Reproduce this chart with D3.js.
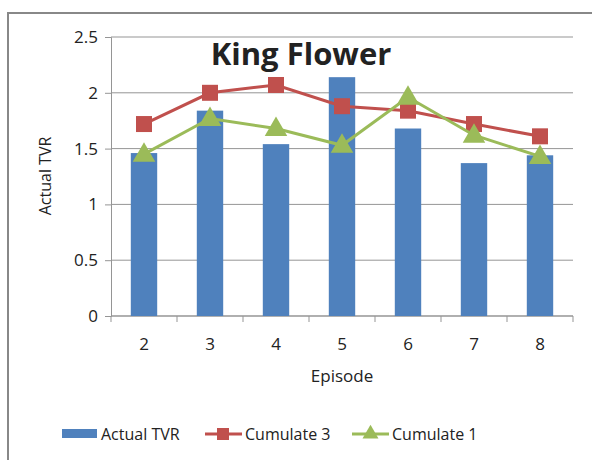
<!DOCTYPE html>
<html>
<head>
<meta charset="utf-8">
<script src="https://cdn.jsdelivr.net/npm/d3@7"></script>
<style>
  body { margin: 0; background: #fff; }
  text { font-family: "Open Sans", "Liberation Sans", sans-serif; fill: #222; }
</style>
</head>
<body>
<div id="chart"></div>
<script>
// chart data
let episodes = ["2", "3", "4", "5", "6", "7", "8"]
let actualTVR = [1.46, 1.84, 1.54, 2.14, 1.68, 1.37, 1.44]
let cumulate3 = [1.72, 2.00, 2.07, 1.88, 1.84, 1.72, 1.61]
let cumulate1 = [1.45, 1.77, 1.68, 1.53, 1.96, 1.62, 1.43]
let yTicks = [0, 0.5, 1, 1.5, 2, 2.5]

let blue = "#4F81BD", red = "#C0504D", green = "#9BBB59"

let svg = d3.select("#chart").append("svg")
  .attr("width", 592)
  .attr("height", 460)

// outer frame (runs off the right and bottom edge)
svg.append("rect")
  .attr("x", 8).attr("y", 13)
  .attr("width", 600).attr("height", 460)
  .attr("fill", "none")
  .attr("stroke", "#888").attr("stroke-width", 2)

let plotL = 111, plotR = 573, plotT = 37, plotB = 316

let x = d3.scaleBand().domain(episodes).range([plotL, plotR]).paddingInner(0.6).paddingOuter(0.3)
let xc = d => x(d) + x.bandwidth() / 2
let y = d3.scaleLinear().domain([0, 2.5]).range([plotB, plotT])

// gridlines
svg.append("g").selectAll("line")
  .data(yTicks)
  .enter().append("line")
  .attr("x1", plotL).attr("x2", plotR)
  .attr("y1", d => y(d)).attr("y2", d => y(d))
  .attr("stroke", "#959595").attr("stroke-width", 1)

// y axis
let yAxis = svg.append("g")
  .attr("transform", `translate(${plotL},0)`)
  .call(d3.axisLeft(y).tickValues(yTicks).tickSize(6).tickPadding(7).tickFormat(d3.format("")))
yAxis.select(".domain").attr("stroke", "#959595")
yAxis.selectAll(".tick line").attr("stroke", "#959595")
yAxis.selectAll("text").style("font-size", "17px").attr("fill", "#222")

// x axis with ticks between categories
let xAxisG = svg.append("g").attr("transform", `translate(0,${plotB})`)
xAxisG.append("line").attr("x1", plotL).attr("x2", plotR).attr("stroke", "#959595")
let step = (plotR - plotL) / episodes.length
xAxisG.selectAll(".sep")
  .data(d3.range(episodes.length + 1))
  .enter().append("line")
  .attr("x1", i => plotL + i * step).attr("x2", i => plotL + i * step)
  .attr("y1", 0).attr("y2", 6)
  .attr("stroke", "#959595")
xAxisG.selectAll(".lbl")
  .data(episodes)
  .enter().append("text")
  .attr("x", d => xc(d)).attr("y", 34)
  .attr("text-anchor", "middle")
  .style("font-size", "17px")
  .text(d => d)

// bars
svg.append("g").selectAll("rect")
  .data(actualTVR)
  .enter().append("rect")
  .attr("x", (d, i) => x(episodes[i]))
  .attr("y", d => y(d))
  .attr("width", x.bandwidth())
  .attr("height", d => plotB - y(d))
  .attr("fill", blue)

let line = d3.line().x((d, i) => xc(episodes[i])).y(d => y(d))

// Cumulate 3
svg.append("path").datum(cumulate3)
  .attr("d", line).attr("fill", "none")
  .attr("stroke", red).attr("stroke-width", 3)
svg.append("g").selectAll("rect")
  .data(cumulate3)
  .enter().append("rect")
  .attr("x", (d, i) => xc(episodes[i]) - 8)
  .attr("y", d => y(d) - 8)
  .attr("width", 16).attr("height", 16)
  .attr("fill", red)

// Cumulate 1
svg.append("path").datum(cumulate1)
  .attr("d", line).attr("fill", "none")
  .attr("stroke", green).attr("stroke-width", 3)
let tri = d3.symbol().type(d3.symbolTriangle).size(220)
svg.append("g").selectAll("path")
  .data(cumulate1)
  .enter().append("path")
  .attr("d", tri)
  .attr("transform", (d, i) => `translate(${xc(episodes[i])},${y(d) + 1})`)
  .attr("fill", green)

// title
svg.append("text")
  .attr("x", 301).attr("y", 65)
  .attr("text-anchor", "middle")
  .style("font-size", "31px").style("font-weight", "bold")
  .attr("fill", "#000")
  .text("King Flower")

// axis titles
svg.append("text")
  .attr("transform", "translate(51,176) rotate(-90)")
  .attr("text-anchor", "middle")
  .style("font-size", "16px")
  .text("Actual TVR")
svg.append("text")
  .attr("x", 342).attr("y", 382)
  .attr("text-anchor", "middle")
  .style("font-size", "17px")
  .text("Episode")

// legend
let legend = [
  {name: "Actual TVR", color: blue, kind: "bar", x: 62},
  {name: "Cumulate 3", color: red, kind: "square", x: 205},
  {name: "Cumulate 1", color: green, kind: "tri", x: 352}
]
let lg = svg.append("g").selectAll("g")
  .data(legend)
  .enter().append("g")
  .attr("transform", d => `translate(${d.x},434)`)
lg.filter(d => d.kind == "bar").append("rect")
  .attr("x", 0).attr("y", -5).attr("width", 35).attr("height", 9)
  .attr("fill", d => d.color)
lg.filter(d => d.kind != "bar").append("line")
  .attr("x1", 0).attr("x2", 37).attr("stroke", d => d.color).attr("stroke-width", 3)
lg.filter(d => d.kind == "square").append("rect")
  .attr("x", 12).attr("y", -6).attr("width", 12).attr("height", 12)
  .attr("fill", d => d.color)
lg.filter(d => d.kind == "tri").append("path")
  .attr("d", d3.symbol().type(d3.symbolTriangle).size(110))
  .attr("transform", "translate(18.5,0)")
  .attr("fill", d => d.color)
lg.append("text")
  .attr("x", d => d.kind == "bar" ? 39 : 40).attr("y", 6)
  .style("font-size", "16px")
  .text(d => d.name)
</script>
</body>
</html>
